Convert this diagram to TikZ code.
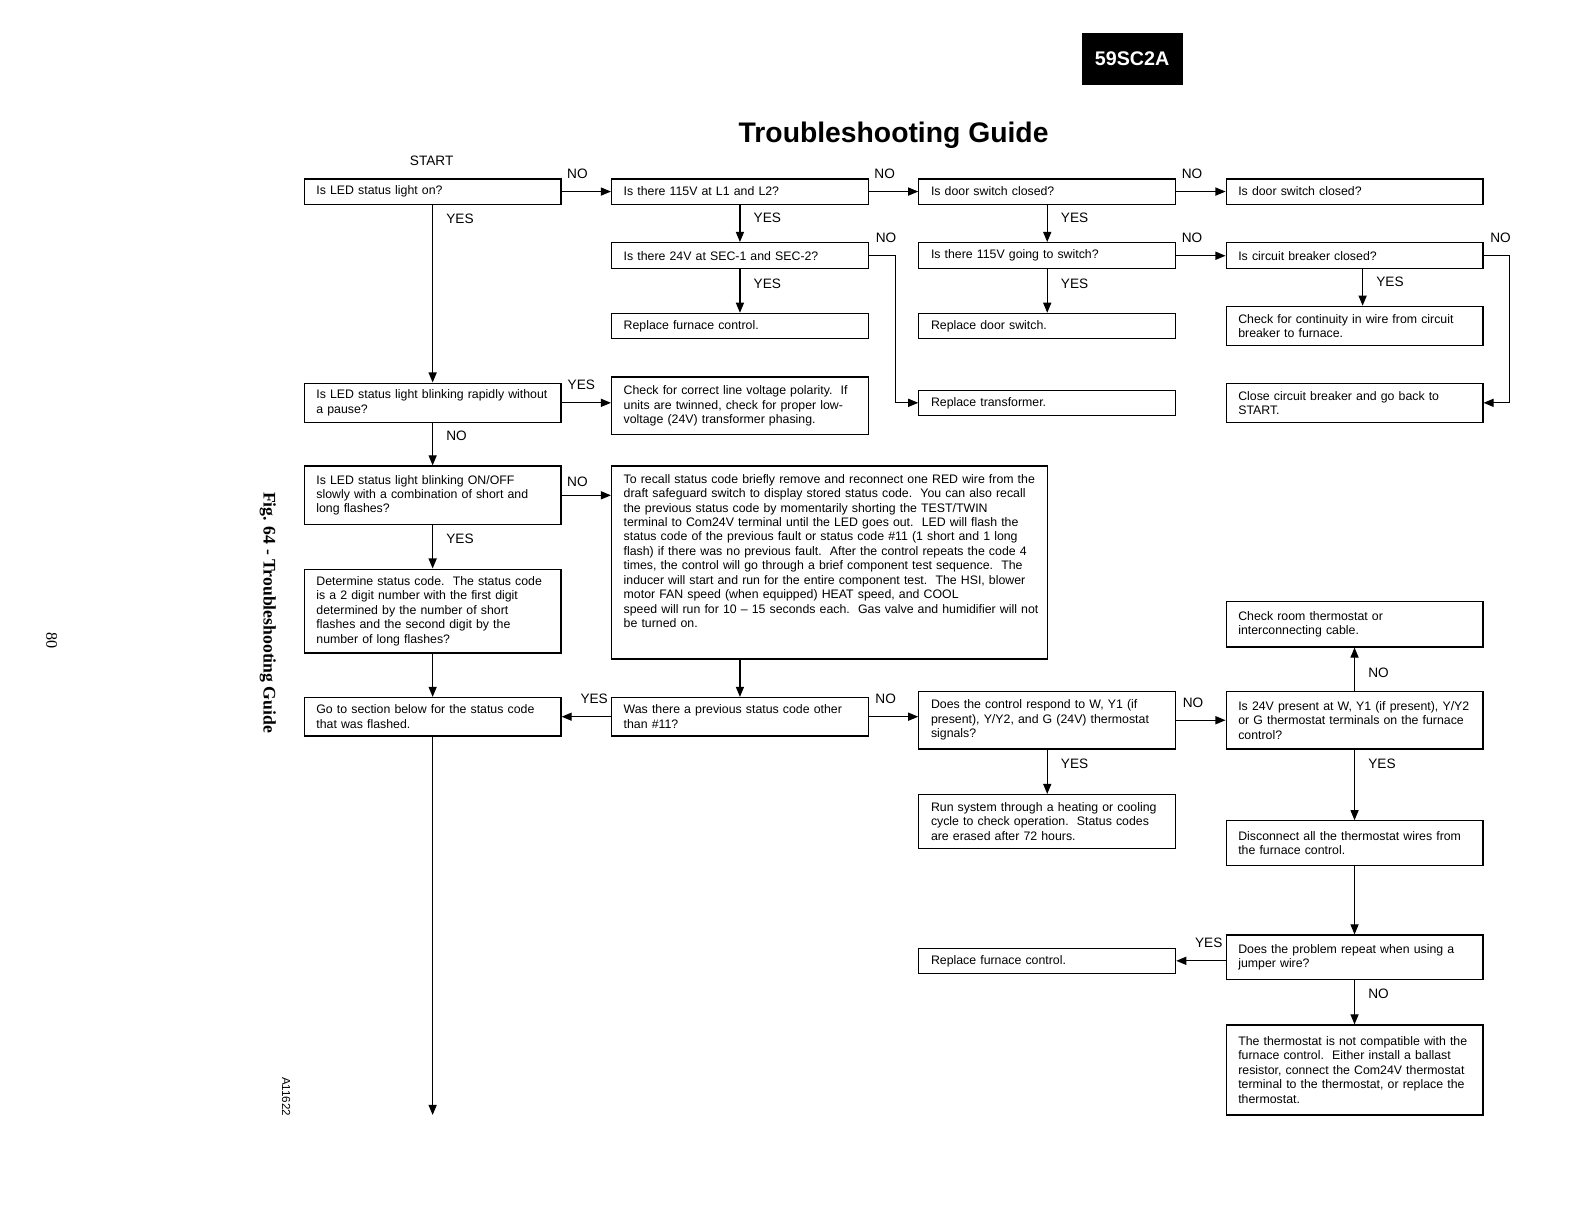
\documentclass[tikz,border=0pt]{standalone}
\usepackage{fontspec}
\setmainfont{Liberation Sans}
\newfontfamily\figfont{Liberation Serif}
\usetikzlibrary{arrows.meta}

\tikzset{
  qbox/.style={draw, line width=1.2pt, text width=230pt, inner xsep=12pt, inner ysep=2pt,
    align=left, minimum height=#1, font=\frenchspacing\fontsize{12.2}{14.3}\selectfont},
  qbox/.default=25pt,
  flow/.style={line width=1.2pt, -{Triangle[length=10pt,width=8pt]}},
  lbl/.style={inner sep=0pt, font=\fontsize{13.5}{14}\selectfont},
}

\begin{document}
\begin{tikzpicture}[x=1pt,y=-1pt]
\useasboundingbox (0,0) rectangle (1567,1211);

% header and margin texts
\node[fill=black, text=white, minimum width=100pt, minimum height=51pt,
  font=\bfseries\fontsize{19.5}{20}\selectfont] (model) at (1120,58.5) {59SC2A};
\node[anchor=base, font=\bfseries\fontsize{28}{30}\selectfont] (title) at (884,141) {Troubleshooting Guide};
\node[rotate=-90, font=\figfont\bfseries\fontsize{17.5}{18}\selectfont] (fig) at (265,606) {Fig. 64 - Troubleshooting Guide};
\node[rotate=-90, font=\figfont\fontsize{16}{16}\selectfont] (page) at (51,634) {80};
\node[rotate=-90, font=\fontsize{11.5}{12}\selectfont] (ref) at (283,1085) {A11622};
\node[lbl] (start) at (427,159) {START};

% row A and B
\node[qbox] (A1) at (428,189.5) {Is LED status light on?};
\node[qbox] (A2) at (732,189.5) {Is there 115V at L1 and L2?};
\node[qbox] (A3) at (1036,189.5) {Is door switch closed?};
\node[qbox] (A4) at (1340,189.5) {Is door switch closed?};
\node[qbox=26pt] (B2) at (732,253) {Is there 24V at SEC-1 and SEC-2?};
\node[qbox=26pt] (B3) at (1036,253) {Is there 115V going to switch?};
\node[qbox=26pt] (B4) at (1340,253) {Is circuit breaker closed?};

% row C and D
\node[qbox] (C2) at (732,322.5) {Replace furnace control.};
\node[qbox] (C3) at (1036,322.5) {Replace door switch.};
\node[qbox=39pt] (C4) at (1340,322.5) {Check for continuity in wire from circuit\\breaker to furnace.};
\node[qbox=39pt] (D1) at (428,398.5) {Is LED status light blinking rapidly without\\a pause?};
\node[qbox=57pt] (D2) at (732,401.5) {Check for correct line voltage polarity.~ If\\units are twinned, check for proper low-\\voltage (24V) transformer phasing.};
\node[qbox] (D3) at (1036,398.5) {Replace transformer.};
\node[qbox=39pt] (D4) at (1340,398.5) {Close circuit breaker and go back to\\START.};

% row E and F
\node[qbox=58pt] (E1) at (428,490) {Is LED status light blinking ON/OFF\\slowly with a combination of short and\\long flashes?};
\node[qbox=191pt, text width=407pt] (E2) at (820.5,556.5) {\mbox{To recall status code briefly remove and reconnect one RED wire from the}\\
\mbox{draft safeguard switch to display stored status code.~ You can also recall}\\
the previous status code by momentarily shorting the TEST/TWIN\\
\mbox{terminal to Com24V terminal until the LED goes out.~ LED will flash the}\\
\mbox{status code of the previous fault or status code \#11 (1 short and 1 long}\\
\mbox{flash) if there was no previous fault.~ After the control repeats the code 4}\\
\mbox{times, the control will go through a brief component test sequence.~ The}\\
\mbox{inducer will start and run for the entire component test.~ The HSI, blower}\\
motor FAN speed (when equipped) HEAT speed, and COOL\\
\mbox{speed will run for 10 -- 15 seconds each.~ Gas valve and humidifier will not}\\
be turned on.\rule[-23pt]{0pt}{23pt}};
\node[qbox=83pt] (F1) at (428,604.5) {Determine status code.~ The status code\\is a 2 digit number with the first digit\\determined by the number of short\\flashes and the second digit by the\\number of long flashes?};
\node[qbox=45pt] (F4) at (1340,617.5) {Check room thermostat or\\interconnecting cable.};

% row G and below
\node[qbox=38pt] (G1) at (428,709) {Go to section below for the status code\\that was flashed.};
\node[qbox=38pt] (G2) at (732,709) {Was there a previous status code other\\than \#11?};
\node[qbox=57pt] (G3) at (1036,712.5) {Does the control respond to W, Y1 (if\\present), Y/Y2, and G (24V) thermostat\\signals?};
\node[qbox=57pt] (G4) at (1340,712.5) {Is 24V present at W, Y1 (if present), Y/Y2\\or G thermostat terminals on the furnace\\control?};
\node[qbox=53pt] (H3) at (1036,812.5) {Run system through a heating or cooling\\cycle to check operation.~ Status codes\\are erased after 72 hours.};
\node[qbox=44pt] (H4) at (1340,834) {Disconnect all the thermostat wires from\\the furnace control.};
\node[qbox] (I3) at (1036,950.5) {Replace furnace control.};
\node[qbox=44pt] (I4) at (1340,947) {Does the problem repeat when using a\\jumper wire?};
\node[qbox=89pt] (J4) at (1340,1058.5) {The thermostat is not compatible with the\\furnace control.~ Either install a ballast\\resistor, connect the Com24V thermostat\\terminal to the thermostat, or replace the\\thermostat.};
\coordinate (down) at (428,1103);

% connectors
\foreach \a/\b in {A1/A2, A2/A3, A3/A4, B3/B4}
  \draw[flow] (\a) -- node[lbl, above=12pt, pos=.32] {NO} (\b);
\foreach \a/\b in {A2/B2, A3/B3, B2/C2, B3/C3}
  \draw[flow] (\a) -- node[lbl, right=13pt, pos=.34] {YES} (\b);
\draw[flow] (A1) -- node[lbl, right=13pt, pos=.08] {YES} (D1);
\draw[flow] (B2.east) -- node[lbl, above=12pt, pos=.65] {NO} ++(26,0) |- (D3.west);
\draw[flow] (B4.east) -- node[lbl, above=12pt, pos=.65] {NO} ++(26,0) |- (D4.east);
\draw[flow] ([xshift=8pt]B4.south) -- node[lbl, right=13pt, pos=.35] {YES} ([xshift=8pt]C4.north);
\draw[flow] (D1.east) -- node[lbl, above=12pt, pos=.4] {YES} (D1.east -| D2.west);
\draw[flow] (D1) -- node[lbl, right=13pt, pos=.3] {NO} (E1);
\draw[flow] (E1.east) -- node[lbl, above=8pt, pos=.32] {NO} (E1.east -| E2.west);
\draw[flow] (E1) -- node[lbl, right=13pt, pos=.32] {YES} (F1);
\draw[flow] (F1) -- (G1);
\draw[flow] (G2.north |- E2.south) -- (G2.north);
\draw[flow] (G2) -- node[lbl, above=12pt, pos=.34] {YES} (G1);
\draw[flow] (G2.east) -- node[lbl, above=12pt, pos=.34] {NO} (G2.east -| G3.west);
\draw[flow] (G3) -- node[lbl, above=12pt, pos=.34] {NO} (G4);
\draw[flow] (G4) -- node[lbl, right=13pt, pos=.41] {NO} (F4);
\draw[flow] (G3) -- node[lbl, right=13pt, pos=.31] {YES} (H3);
\draw[flow] (G4) -- node[lbl, right=13pt, pos=.2] {YES} (H4);
\draw[flow] (H4) -- (I4);
\draw[flow] (I4.west |- I3) -- node[lbl, above=12pt, pos=.34] {YES} (I3.east);
\draw[flow] (I4) -- node[lbl, right=13pt, pos=.31] {NO} (J4);
\draw[flow] (G1) -- (down);

\end{tikzpicture}
\end{document}
